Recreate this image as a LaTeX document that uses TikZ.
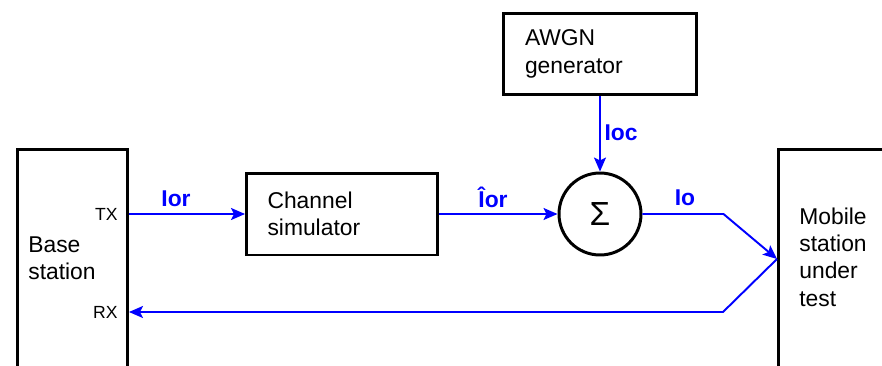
\documentclass[tikz,border=0pt]{standalone}
\usepackage{fontspec}
\setmainfont{Liberation Sans}
\usetikzlibrary{arrows.meta}
\usetikzlibrary{positioning}

\begin{document}
\begin{tikzpicture}[x=0.02cm, y=-0.02cm,
        blk/.style={draw, line width=1.7pt, inner sep=0pt},
        sig/.style={blue, line width=1.1pt, -{Stealth[length=2.8mm, width=2.4mm, inset=0.6mm]}},
        lbl/.style={blue, font=\fontsize{13}{15.5}\selectfont\bfseries, anchor=base, inner sep=0pt},
        txt/.style={font=\fontsize{13}{15.5}\selectfont, align=left}]
        \useasboundingbox (0,0) rectangle (882,365);
        \clip (0,0) rectangle (882,365);

        % blocks
        \node[blk, anchor=north west, minimum width=2.2cm, minimum height=5cm] (bs) at (16,148) {};
        \node[blk, anchor=north west, minimum width=3cm, minimum height=5cm] (ms) at (777,148) {};
        \node[blk, txt, minimum width=3.82cm, minimum height=1.64cm, text width=2.98cm] (chan) at (342,214) {Channel\\simulator};
        \node[blk, txt, minimum width=3.88cm, minimum height=1.64cm, text width=3.0cm] (awgn) at (600,54) {AWGN\\generator};
        \node[blk, circle, minimum size=1.64cm, font=\fontsize{19}{19}\selectfont] (sum) at (600,214) {Σ};

        \node[txt, anchor=west, inner sep=0pt] (bstext) at (28,258) {Base\\station};
        \node[txt, anchor=west, inner sep=0pt] (mstext) at (799,257) {Mobile\\station\\under\\test};
        \node[font=\fontsize{10}{12}\selectfont, anchor=east, inner sep=0pt] (tx) at (118,214) {TX};
        \node[font=\fontsize{10}{12}\selectfont, anchor=east, inner sep=0pt] (rx) at (118,312) {RX};
        \coordinate (msin) at (777,259);

        % signals
        \draw[sig] (bs.east |- chan.west) -- (chan.west);
        \draw[sig] (chan.east) -- (sum.west);
        \draw[sig] (awgn.south) -- (sum.north);
        \draw[sig] (sum.east) -- ++(81,0) -- (msin);
        \draw[sig] (msin) -- ++(-54,53) -- (rx.east -| bs.east);

        \node[lbl] (ior) at (176,206) {Ior};
        \node[lbl] (iorhat) at (493,207) {Îor};
        \node[lbl] (io) at (685,205) {Io};
        \node[lbl] (ioc) at (621,140) {Ioc};
\end{tikzpicture}
\end{document}
